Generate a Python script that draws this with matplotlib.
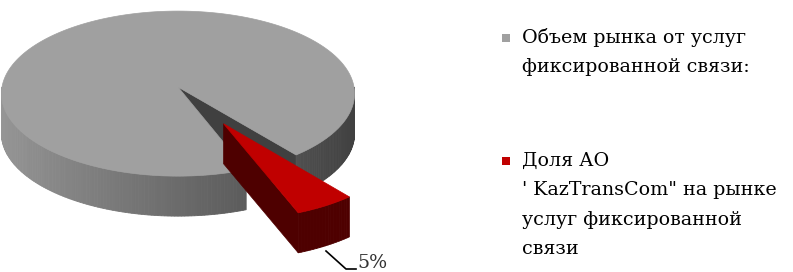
import numpy as np
import matplotlib.pyplot as plt
from matplotlib.patches import Polygon

# data
labels = ['Объем рынка от услуг\nфиксированной связи:',
          'Доля АО\n\' KazTransCom" на рынке\nуслуг фиксированной\nсвязи']
values = [95, 5]
top_colors = ['#A0A0A0', '#C00000']
side_colors = ['#404040', '#4E0000']
shown_pct = [None, '5%']

W, H = 793, 272
DPI = 100
fig = plt.figure(figsize=(W / DPI, H / DPI), dpi=DPI)
ax = fig.add_axes([0, 0, 1, 1])
ax.set_xlim(0, W)
ax.set_ylim(H, 0)
ax.axis('off')

# pie geometry (pixels)
cx, cy = 178, 87
a, b = 176, 82
depth = 40
persp = 0.08          # front of the pie looks a little bigger
start_angle = -51.0
explode = [0.0, 0.5]


def pt(theta, r=1.0, off=(0.0, 0.0), z=0.0):
    t = np.radians(theta)
    xp = off[0] + r * np.cos(t)
    yp = off[1] + r * np.sin(t)
    p = 1.0 / (1.0 + persp * yp)
    return cx + a * xp * p, cy - b * yp * p + depth * z


def gray_shade(theta):
    # lighter on the left, darker on the right
    v = 0.42 - 0.17 * np.cos(np.radians(theta))
    return (v, v, v)


fracs = np.array(values) / np.sum(values)
angles = start_angle + 360 * np.concatenate([[0], np.cumsum(fracs)])

for i, v in enumerate(values):
    t0, t1 = angles[i], angles[i + 1]
    mid = np.radians((t0 + t1) / 2)
    off = (explode[i] * np.cos(mid), explode[i] * np.sin(mid))

    # radial face at the start edge (normal points to t0 - 90)
    if np.sin(np.radians(t0 - 90)) < 0:
        quad = [pt(0, 0, off), pt(t0, 1, off), pt(t0, 1, off, 1), pt(0, 0, off, 1)]
        ax.add_patch(Polygon(quad, closed=True, fc=side_colors[i], ec=side_colors[i], lw=0.5))
    # radial face at the end edge (normal points to t1 + 90)
    if np.sin(np.radians(t1 + 90)) < 0:
        quad = [pt(0, 0, off), pt(t1, 1, off), pt(t1, 1, off, 1), pt(0, 0, off, 1)]
        c = '#440000' if i == 1 else side_colors[i]
        ax.add_patch(Polygon(quad, closed=True, fc=c, ec=c, lw=0.5))

    # outer wall, front part only
    ts = np.linspace(t0, t1, max(int(abs(t1 - t0)), 2) + 1)
    for ta, tb in zip(ts[:-1], ts[1:]):
        tm = (ta + tb) / 2
        if np.sin(np.radians(tm)) >= 0:
            continue
        c = gray_shade(tm) if i == 0 else side_colors[i]
        quad = [pt(ta, 1, off), pt(tb, 1, off), pt(tb, 1, off, 1), pt(ta, 1, off, 1)]
        ax.add_patch(Polygon(quad, closed=True, fc=c, ec=c, lw=0.6))

    # top face
    poly = [pt(0, 0, off)] + [pt(t, 1, off) for t in ts]
    ax.add_patch(Polygon(poly, closed=True, fc=top_colors[i], ec=top_colors[i], lw=0.5))

# percentage label with leader line
lx = [326, 346, 356]
ly = [251, 269, 269]
ax.plot(lx, ly, color='black', lw=1.2)
ax.text(357, 254, shown_pct[1], fontsize=19 * 72 / DPI, family='DejaVu Serif',
        color='#333333', va='top', ha='left')

# legend
fs = 19 * 72 / DPI
entry_y = [43, 166]
line_gap = 29.3
for i, lab in enumerate(labels):
    ax.add_patch(plt.Rectangle((502, entry_y[i] - 9), 8, 8, fc=top_colors[i], ec='none'))
    for k, line in enumerate(lab.split('\n')):
        ax.text(522, entry_y[i] + k * line_gap, line, fontsize=fs,
                family='DejaVu Serif', va='baseline', ha='left', color='black')

fig.savefig('out.png', dpi=DPI)
